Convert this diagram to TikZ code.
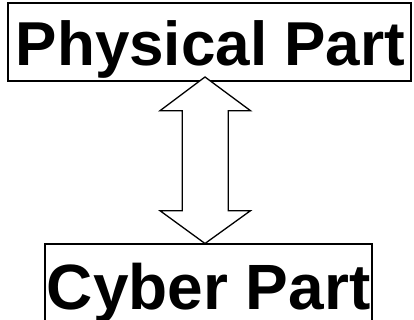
\documentclass[tikz,border=0pt]{standalone}
\usepackage{fontspec}
\setmainfont{Liberation Sans}
\begin{document}
\begin{tikzpicture}[x=1pt,y=-1pt,
  frame/.style={draw=black,line width=1.3pt},
  label/.style={font=\bfseries\fontsize{62}{62}\selectfont,inner sep=0pt,anchor=base}]
\useasboundingbox (0,0) rectangle (414,320);
\begin{scope}
\clip (0,0) rectangle (414,320);
% boxes
\draw[frame] (8,3) rectangle (411,81);
\draw[frame] (45,244) rectangle (372,340);
% labels
\node[label] (phys) at (210.5,65.3) {Physical Part};
\node[label,font=\bfseries\fontsize{64}{64}\selectfont] (cyber) at (208.7,309.3) {Cyber Part};
% hollow double-headed arrow between the two parts
\coordinate (top) at (205,77);
\coordinate (bot) at (205,243.5);
\draw[line width=1.3pt,fill=white,line join=miter]
  (top) -- (250.5,110.7) -- (228.3,110.7) -- (228.3,210.7) -- (250.5,210.7)
  -- (bot) -- (160,210.7) -- (182.3,210.7) -- (182.3,110.7) -- (160,110.7) -- cycle;
\end{scope}
\end{tikzpicture}
\end{document}
